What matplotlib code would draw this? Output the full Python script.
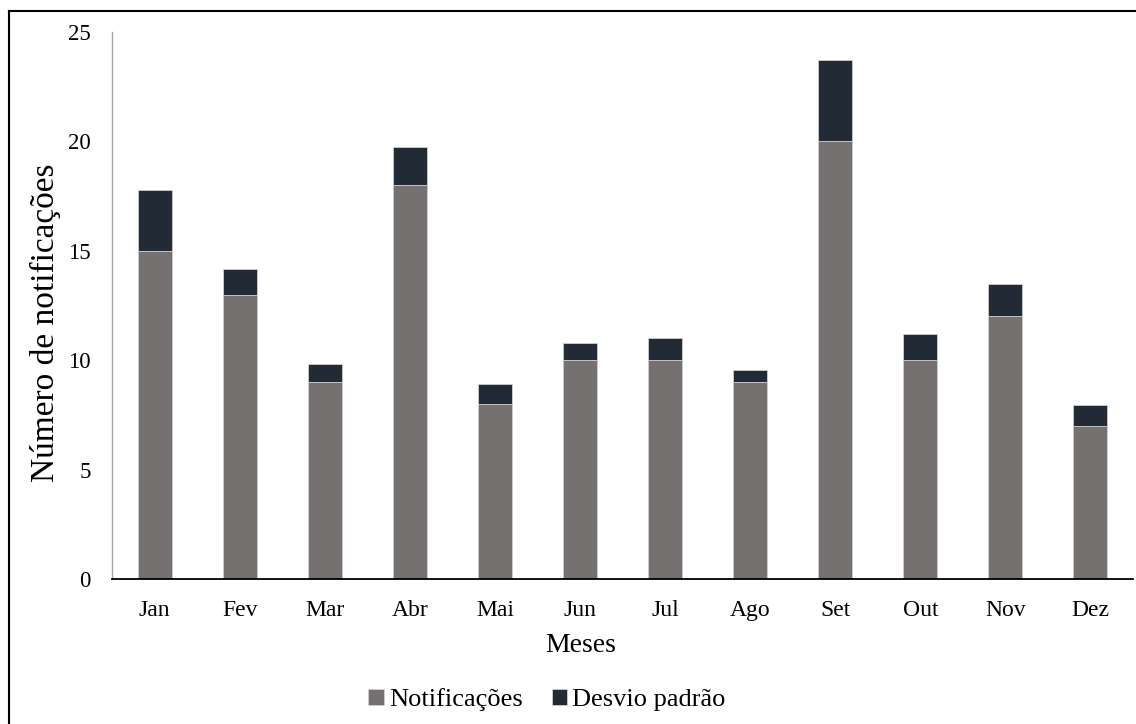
import matplotlib
matplotlib.use("Agg")
import matplotlib.pyplot as plt
import numpy as np
from matplotlib.patches import Patch
from matplotlib.lines import Line2D

meses = ["Jan", "Fev", "Mar", "Abr", "Mai", "Jun", "Jul", "Ago", "Set", "Out", "Nov", "Dez"]
notificacoes = [15, 13, 9, 18, 8, 10, 10, 9, 20, 10, 12, 7]
desvio = [2.8, 1.15, 0.83, 1.74, 0.9, 0.8, 1.0, 0.57, 3.74, 1.2, 1.5, 0.95]
yticks = [0, 5, 10, 15, 20, 25]

plt.rcParams['font.family'] = ['Liberation Serif', 'DejaVu Serif']

W, H = 1136, 724
fig = plt.figure(figsize=(W / 100, H / 100), dpi=100)
ax = fig.add_axes([112 / W, (H - 579) / H, (1133 - 112) / W, (579 - 32) / H])

c_grey = "#767171"
c_dark = "#222a35"
x = np.arange(len(meses))
ax.bar(x, notificacoes, width=0.4, color=c_grey, edgecolor="#d0cece", linewidth=0.6, zorder=2)
ax.bar(x, desvio, bottom=notificacoes, width=0.4, color=c_dark, edgecolor="#d0cece", linewidth=0.6, zorder=2)

ax.set_xlim(-0.5, len(meses) - 0.5)
ax.set_ylim(0, 25)
ax.set_yticks(yticks)
ax.set_xticks(x)
ax.set_xticklabels(meses)
ax.tick_params(axis='y', length=0, pad=15.5, labelsize=16.5)
ax.tick_params(axis='x', length=0, pad=15, labelsize=17)

for s in ["top", "right"]:
    ax.spines[s].set_visible(False)
ax.spines["left"].set_color("#a6a6a6")
ax.spines["left"].set_linewidth(1.0)
ax.spines["bottom"].set_color("black")
ax.spines["bottom"].set_linewidth(1.3)

fig.text(45 / W, 1 - 323 / H, "Número de notificações", rotation=90, ha="center", va="center", fontsize=24)
fig.text(581 / W, 1 - 645 / H, "Meses", ha="center", va="center", fontsize=20)

handles = [Patch(facecolor=c_grey, edgecolor="#d0cece", linewidth=0.6, label="Notificações"),
           Patch(facecolor=c_dark, edgecolor="#d0cece", linewidth=0.6, label="Desvio padrão")]
fig.legend(handles=handles, loc="center", bbox_to_anchor=(547 / W, 1 - 700 / H), ncol=2, frameon=False,
           fontsize=19, handlelength=0.58, handleheight=0.58, handletextpad=0.2, columnspacing=1.1,
           borderpad=0)

# outer frame (left and top visible)
fig.add_artist(Line2D([8.5 / W, 8.5 / W], [0, 1 - 10.5 / H], transform=fig.transFigure, color="black", lw=1.5))
fig.add_artist(Line2D([8.5 / W, 1], [1 - 10.5 / H, 1 - 10.5 / H], transform=fig.transFigure, color="black", lw=1.5))

fig.savefig("out.png", dpi=100)
